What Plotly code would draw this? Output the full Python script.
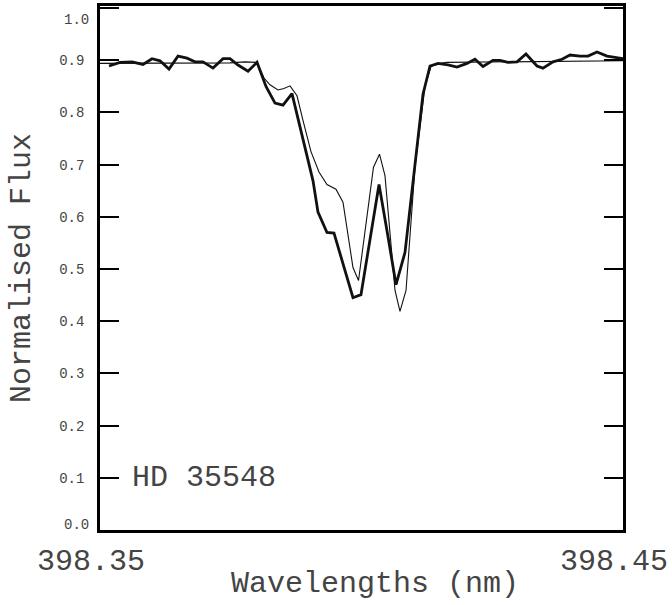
import plotly.graph_objects as go

# Observed spectrum (thick line)
obs_wl = [398.35172, 398.35382, 398.35612, 398.35822, 398.35994, 398.36147, 398.36319,
          398.36491, 398.36663, 398.36816, 398.36969, 398.37161, 398.37352, 398.37486,
          398.37639, 398.37830, 398.38002, 398.38174, 398.38346, 398.38499, 398.38671,
          398.38862, 398.39073, 398.39168, 398.39340, 398.39474, 398.39665, 398.39837,
          398.39990, 398.40163, 398.40335, 398.40507, 398.40660, 398.40832, 398.41004,
          398.41176, 398.41310, 398.41463, 398.41654, 398.41826, 398.42017, 398.42170,
          398.42323, 398.42514, 398.42648, 398.42801, 398.42973, 398.43145, 398.43356,
          398.43470, 398.43662, 398.43834, 398.43987, 398.44178, 398.44331, 398.44503,
          398.44694, 398.44847, 398.45000]
obs_flux = [0.889, 0.896, 0.897, 0.892, 0.903, 0.899, 0.883,
            0.908, 0.904, 0.897, 0.897, 0.885, 0.903, 0.903,
            0.891, 0.879, 0.896, 0.850, 0.818, 0.814, 0.836,
            0.756, 0.669, 0.609, 0.570, 0.569, 0.504, 0.445,
            0.451, 0.556, 0.662, 0.562, 0.470, 0.532, 0.690,
            0.835, 0.889, 0.894, 0.891, 0.887, 0.894, 0.902,
            0.888, 0.900, 0.900, 0.896, 0.897, 0.912, 0.889,
            0.885, 0.897, 0.902, 0.910, 0.908, 0.908, 0.916,
            0.908, 0.905, 0.903]

# Synthetic spectrum (thin line)
mod_wl = [398.35000, 398.35956, 398.36912, 398.37486, 398.37772, 398.38002, 398.38136,
          398.38250, 398.38403, 398.38518, 398.38633, 398.38767, 398.38881, 398.39034,
          398.39187, 398.39340, 398.39512, 398.39646, 398.39837, 398.39943, 398.40229,
          398.40344, 398.40449, 398.40641, 398.40736, 398.40851, 398.41023, 398.41138,
          398.41214, 398.41329, 398.41501, 398.41635, 398.42648, 398.43795, 398.45000]
mod_flux = [0.894, 0.894, 0.894, 0.895, 0.897, 0.896, 0.866,
            0.853, 0.843, 0.846, 0.851, 0.832, 0.785, 0.725,
            0.686, 0.662, 0.653, 0.628, 0.503, 0.478, 0.695,
            0.720, 0.679, 0.459, 0.419, 0.459, 0.695, 0.790,
            0.850, 0.888, 0.894, 0.896, 0.897, 0.898, 0.899]

y_ticks = [0.0, 0.1, 0.2, 0.3, 0.4, 0.5, 0.6, 0.7, 0.8, 0.9, 1.0]
y_ticktext = ["", "0.1", "0.2", "0.3", "0.4", "0.5", "0.6", "0.7", "0.8", "0.9", ""]
x_ticks = [398.35, 398.45]
x_ticktext = ["398.35", "398.45"]

TXT = "#444444"
MONO = "Liberation Mono, DejaVu Sans Mono, monospace"

fig = go.Figure()
fig.add_trace(go.Scatter(x=mod_wl, y=mod_flux, mode="lines",
                         line=dict(color="#111111", width=1.1), showlegend=False))
fig.add_trace(go.Scatter(x=obs_wl, y=obs_flux, mode="lines",
                         line=dict(color="#111111", width=2.8), showlegend=False))

fig.update_layout(
    width=672, height=605,
    margin=dict(l=100, r=49, t=6, b=75, autoexpand=False),
    paper_bgcolor="white", plot_bgcolor="white",
    font=dict(family=MONO, color=TXT),
    xaxis=dict(range=[398.35, 398.45], tickvals=x_ticks, ticktext=x_ticktext,
               ticks="inside", ticklen=19, tickwidth=2.5, tickcolor="black",
               showline=True, linecolor="black", linewidth=2.5, mirror="allticks",
               showgrid=False, zeroline=False, automargin=False,
               tickfont=dict(size=30, family=MONO, color=TXT),
               ticklabelshift=-9, ticklabelstandoff=1),
    yaxis=dict(range=[0, 1.004], tickvals=y_ticks, ticktext=y_ticktext,
               ticks="inside", ticklen=19, tickwidth=2, tickcolor="black",
               showline=True, linecolor="black", linewidth=2.5, mirror="allticks",
               showgrid=False, zeroline=False, automargin=False,
               tickfont=dict(size=14, family=MONO, color=TXT),
               ticklabelstandoff=10),
)

# end tick labels on y, nudged inside the frame like the original
fig.add_annotation(x=0, xref="paper", y=0.0, yref="y", text="0.0", showarrow=False,
                   xanchor="right", xshift=-9, yshift=5,
                   font=dict(size=14, family=MONO, color=TXT))
fig.add_annotation(x=0, xref="paper", y=1.0, yref="y", text="1.0", showarrow=False,
                   xanchor="right", xshift=-9, yshift=-12,
                   font=dict(size=14, family=MONO, color=TXT))

# axis titles
fig.add_annotation(x=0.5, xref="paper", y=0, yref="paper", text="Wavelengths (nm)",
                   showarrow=False, xanchor="center", yanchor="middle",
                   xshift=13, yshift=-54, font=dict(size=30, family=MONO, color=TXT))
fig.add_annotation(x=0, xref="paper", y=0.5, yref="paper", text="Normalised Flux",
                   showarrow=False, textangle=-90, xanchor="center", yanchor="middle",
                   xshift=-78, font=dict(size=30, family=MONO, color=TXT))

# star label
fig.add_annotation(x=398.3558, y=0.1, xref="x", yref="y", text="HD 35548",
                   showarrow=False, xanchor="left", yanchor="middle",
                   font=dict(size=30, family=MONO, color=TXT))

fig.write_html("out.html",
               config={"displayModeBar": False},
               post_script="document.body.style.margin='0';"
                           "document.body.style.overflow='hidden';")
